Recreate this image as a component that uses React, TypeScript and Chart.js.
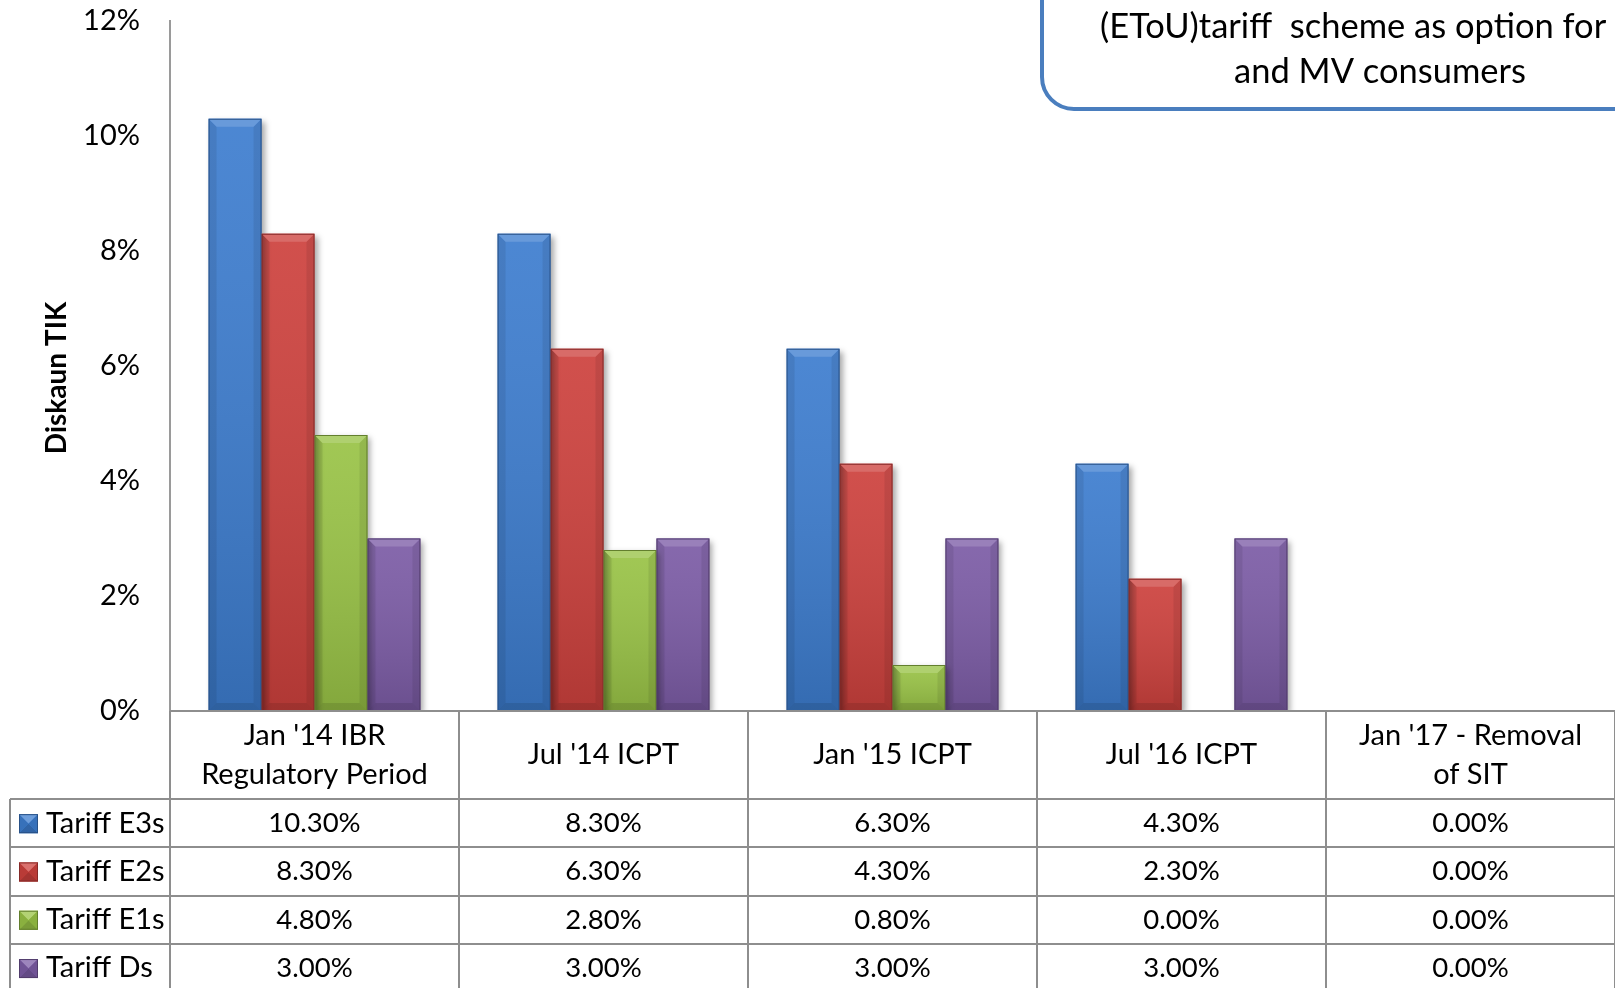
import React, { useEffect, useRef } from "react";
import { Chart, registerables } from "chart.js";

Chart.register(...registerables);

// ---- data ----
const categories: string[][] = [
  ["Jan '14 IBR", "Regulatory Period"],
  ["Jul '14 ICPT"],
  ["Jan '15 ICPT"],
  ["Jul '16 ICPT"],
  ["Jan '17 - Removal", "of SIT"],
];
const seriesNames = ["Tariff E3s", "Tariff E2s", "Tariff E1s", "Tariff Ds"];
const tariffE3s = [10.3, 8.3, 6.3, 4.3, 0];
const tariffE2s = [8.3, 6.3, 4.3, 2.3, 0];
const tariffE1s = [4.8, 2.8, 0.8, 0, 0];
const tariffDs = [3, 3, 3, 3, 0];
const yTickValues = [0, 2, 4, 6, 8, 10, 12];
const yAxisTitle = "Diskaun TIK";
const calloutLines = ["(EToU)tariff  scheme as option for", "and MV consumers"];

// ---- styles ----
const seriesColors = ["#3D7DCF", "#CD413D", "#99C346", "#7C5CA6"];
const FONT = "Lato, 'Open Sans', sans-serif";

function shade(hex: string, amt: number): string {
  const n = parseInt(hex.slice(1), 16);
  let r = (n >> 16) & 255, g = (n >> 8) & 255, b = n & 255;
  if (amt >= 0) {
    r = r + (255 - r) * amt; g = g + (255 - g) * amt; b = b + (255 - b) * amt;
  } else {
    r = r * (1 + amt); g = g * (1 + amt); b = b * (1 + amt);
  }
  return `rgb(${Math.round(r)},${Math.round(g)},${Math.round(b)})`;
}

const shadowPlugin = {
  id: "barShadow",
  beforeDatasetsDraw(chart: any) {
    const ctx = chart.ctx;
    ctx.save();
    ctx.shadowColor = "rgba(0,0,0,0.35)";
    ctx.shadowBlur = 6;
    ctx.shadowOffsetX = 3;
    ctx.shadowOffsetY = 3;
  },
  afterDatasetsDraw(chart: any) {
    const ctx = chart.ctx;
    ctx.restore();
    chart.data.datasets.forEach((ds: any, di: number) => {
      const meta = chart.getDatasetMeta(di);
      const base = seriesColors[di];
      meta.data.forEach((el: any) => {
        const { x, y, base: b, width } = el.getProps(["x", "y", "base", "width"], true);
        const h = b - y;
        if (h < 1) return;
        const l = x - width / 2;
        const r = x + width / 2;
        const g = ctx.createLinearGradient(0, y, 0, b);
        g.addColorStop(0, "rgba(255,255,255,0.08)");
        g.addColorStop(1, "rgba(0,0,0,0.14)");
        ctx.fillStyle = g;
        ctx.fillRect(l, y, width, h);
        const bev = Math.min(8, h / 2);
        ctx.fillStyle = "rgba(0,0,0,0.08)";
        ctx.beginPath();
        ctx.moveTo(l, y); ctx.lineTo(l + bev, y + bev); ctx.lineTo(l + bev, b - bev); ctx.lineTo(l, b); ctx.closePath();
        ctx.fill();
        ctx.beginPath();
        ctx.moveTo(r, y); ctx.lineTo(r - bev, y + bev); ctx.lineTo(r - bev, b - bev); ctx.lineTo(r, b); ctx.closePath();
        ctx.fill();
        ctx.fillStyle = "rgba(0,0,0,0.10)";
        ctx.beginPath();
        ctx.moveTo(l, b); ctx.lineTo(l + bev, b - bev); ctx.lineTo(r - bev, b - bev); ctx.lineTo(r, b); ctx.closePath();
        ctx.fill();
        ctx.fillStyle = shade(base, 0.22);
        ctx.beginPath();
        ctx.moveTo(l, y); ctx.lineTo(r, y); ctx.lineTo(r - bev, y + bev); ctx.lineTo(l + bev, y + bev); ctx.closePath();
        ctx.fill();
        ctx.strokeStyle = shade(base, -0.35);
        ctx.lineWidth = 1;
        ctx.strokeRect(l + 0.5, y + 0.5, width - 1, h - 1);
      });
    });
  },
};

function drawMarker(ctx: CanvasRenderingContext2D, x: number, y: number, s: number, color: string) {
  ctx.fillStyle = color;
  ctx.fillRect(x, y, s, s);
  const cx = x + s / 2, cy = y + s / 2;
  const tri = (pts: number[][], fill: string) => {
    ctx.fillStyle = fill;
    ctx.beginPath();
    ctx.moveTo(pts[0][0], pts[0][1]);
    for (let i = 1; i < pts.length; i++) ctx.lineTo(pts[i][0], pts[i][1]);
    ctx.closePath();
    ctx.fill();
  };
  tri([[x, y], [x + s, y], [cx, cy]], shade(color, 0.25));
  tri([[x, y + s], [x + s, y + s], [cx, cy]], shade(color, -0.2));
  tri([[x, y], [x, y + s], [cx, cy]], shade(color, -0.1));
  tri([[x + s, y], [x + s, y + s], [cx, cy]], shade(color, -0.1));
  ctx.strokeStyle = shade(color, -0.35);
  ctx.lineWidth = 1;
  ctx.strokeRect(x + 0.5, y + 0.5, s - 1, s - 1);
}

const tablePlugin = {
  id: "dataTable",
  afterDraw(chart: any) {
    const ctx: CanvasRenderingContext2D = chart.ctx;
    const xs = chart.scales.x;
    const area = chart.chartArea;
    const n = chart.data.labels.length;
    const cw = xs.getPixelForValue(1) - xs.getPixelForValue(0);
    const top = area.bottom;
    const headerH = 88;
    const rowH = 48.3;
    const tableLeft = 10;
    const right = xs.getPixelForValue(n - 1) + cw / 2;
    const bottom = chart.height + 4;
    ctx.save();
    ctx.strokeStyle = "#8E8E8E";
    ctx.lineWidth = 2;
    const line = (x1: number, y1: number, x2: number, y2: number) => {
      ctx.beginPath(); ctx.moveTo(x1, y1); ctx.lineTo(x2, y2); ctx.stroke();
    };
    line(xs.left, top, right, top);
    for (let r = 0; r < 4; r++) {
      const yy = Math.round(top + headerH + r * rowH);
      line(tableLeft, yy, right, yy);
    }
    line(tableLeft, top + headerH, tableLeft, bottom);
    for (let k = 0; k <= n; k++) {
      const xx = xs.getPixelForValue(0) - cw / 2 + k * cw;
      line(xx, top, xx, bottom);
    }
    ctx.fillStyle = "#000";
    ctx.textAlign = "center";
    ctx.textBaseline = "middle";
    ctx.font = `29px ${FONT}`;
    chart.data.labels.forEach((lab: string[], i: number) => {
      const cx = xs.getPixelForValue(i);
      const mid = top + headerH / 2;
      const lh = 39;
      lab.forEach((t, j) => {
        ctx.fillText(t, cx, mid + (j - (lab.length - 1) / 2) * lh);
      });
    });
    chart.data.datasets.forEach((ds: any, di: number) => {
      const cy = top + headerH + di * rowH + rowH / 2;
      drawMarker(ctx, 19, cy - 9, 19, seriesColors[di]);
      ctx.textAlign = "left";
      ctx.fillStyle = "#000";
      ctx.font = `29px ${FONT}`;
      ctx.fillText(ds.label, 46, cy);
      ctx.textAlign = "center";
      ctx.font = `27.5px ${FONT}`;
      ds.data.forEach((v: number, i: number) => {
        ctx.fillText(v.toFixed(2) + "%", xs.getPixelForValue(i), cy);
      });
    });
    // y-axis title, rotated, centred a little below the plot middle as in the reference
    ctx.save();
    ctx.translate(57, area.top + (area.bottom - area.top) / 2 + 12);
    ctx.rotate(-Math.PI / 2);
    ctx.textAlign = "center";
    ctx.textBaseline = "middle";
    ctx.font = `bold 28px ${FONT}`;
    ctx.fillStyle = "#000";
    ctx.fillText(yAxisTitle, 0, 0);
    ctx.restore();
    // callout box
    ctx.strokeStyle = "#4A7EBE";
    ctx.lineWidth = 4;
    ctx.beginPath();
    (ctx as any).roundRect(1042, -80, 700, 189, 32);
    ctx.stroke();
    ctx.font = `34.5px ${FONT}`;
    ctx.fillStyle = "#000";
    ctx.textAlign = "left";
    ctx.fillText(calloutLines[0], 1100, 27);
    ctx.textAlign = "center";
    ctx.fillText(calloutLines[1], 1380, 72);
    ctx.restore();
  },
};

export default function App() {
  const ref = useRef<HTMLCanvasElement | null>(null);
  useEffect(() => {
    document.body.style.margin = "0";
    document.body.style.overflow = "hidden";
    const canvas = ref.current!;
    const seriesValues = [tariffE3s, tariffE2s, tariffE1s, tariffDs];
    const chart = new Chart(canvas, {
      type: "bar",
      data: {
        labels: categories as any,
        datasets: seriesNames.map((name, i) => ({
          label: name,
          data: seriesValues[i],
          backgroundColor: seriesColors[i],
          borderWidth: 0,
          categoryPercentage: 0.733,
          barPercentage: 1.0,
        })),
      },
      options: {
        responsive: false,
        animation: false,
        devicePixelRatio: 1,
        layout: { padding: { top: 21, left: 0, right: 0, bottom: 0 } },
        plugins: {
          legend: { display: false },
          tooltip: { enabled: false },
          title: { display: false },
        },
        scales: {
          x: {
            ticks: { display: false },
            grid: { display: false },
            border: { display: false },
            afterFit: (scale: any) => { scale.height = 277; },
          },
          y: {
            min: 0,
            max: 12,
            afterBuildTicks: (scale: any) => {
              scale.ticks = yTickValues.map((v) => ({ value: v }));
            },
            ticks: {
              callback: (v: any) => `${v}%`,
              color: "#000",
              font: { family: FONT, size: 29 },
              padding: 22,
            },
            grid: { display: false },
            border: { display: true, color: "#9A9A9A", width: 2 },
            title: { display: false },
            afterFit: (scale: any) => {
              scale.width = 170;
              scale.paddingTop = 0;
              scale.paddingBottom = 0;
            },
          },
        },
      },
      plugins: [shadowPlugin, tablePlugin],
    });
    return () => chart.destroy();
  }, []);
  return (
    <div style={{ width: 1615, height: 988, position: "relative", overflow: "hidden" }}>
      <canvas ref={ref} width={1615} height={988} style={{ display: "block" }} />
    </div>
  );
}
